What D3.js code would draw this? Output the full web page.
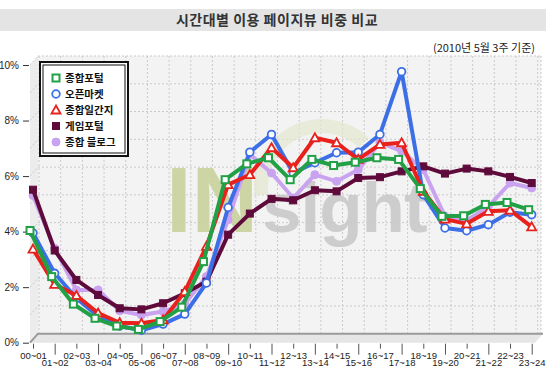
<!DOCTYPE html>
<html><head><meta charset="utf-8">
<script src="https://cdn.jsdelivr.net/npm/d3@7"></script>
<style>body{margin:0;background:#fff}svg{display:block}</style>
</head><body><svg id="c" width="550" height="379"></svg>
<script>
const categories = ["00~01","01~02","02~03","03~04","04~05","05~06","06~07","07~08","08~09","09~10","10~11","11~12","12~13","13~14","14~15","15~16","16~17","17~18","18~19","19~20","20~21","21~22","22~23","23~24"];
const seriesNames = ["종합포털","오픈마켓","종합일간지","게임포털","종합 블로그"];
const portal = [4.04,2.38,1.39,0.88,0.60,0.48,0.76,1.28,2.92,5.87,6.44,6.66,5.87,6.60,6.38,6.50,6.66,6.60,5.55,4.55,4.57,4.98,5.05,4.79];
const market = [3.95,2.50,1.60,0.95,0.60,0.45,0.67,1.03,2.15,4.87,6.86,7.50,6.11,6.48,6.84,6.86,7.50,9.76,5.33,4.13,4.03,4.25,4.70,4.61];
const news   = [3.37,2.10,1.70,1.07,0.72,0.70,0.82,1.84,3.47,5.69,6.05,7.02,6.30,7.38,7.20,6.60,7.14,7.20,5.45,4.45,4.28,4.73,4.77,4.17];
const game   = [5.51,3.32,2.26,1.72,1.24,1.20,1.42,1.78,2.20,3.89,4.65,5.18,5.13,5.49,5.45,5.93,5.96,6.17,6.35,6.09,6.27,6.17,5.97,5.75];
const blog   = [5.30,3.40,1.90,1.90,1.15,1.00,1.12,1.40,2.38,4.43,6.78,6.11,5.21,6.05,5.81,6.23,7.20,6.90,6.23,4.55,4.40,4.90,5.75,5.57];
const yTicks = [0,2,4,6,8,10];
const gridValues = [1,2,3,4,5,6,7,8,9,10];
const title = "시간대별 이용 페이지뷰 비중 비교";
const subtitle = "(2010년 5월 3주 기준)";

const seriesData = {"종합포털":portal,"오픈마켓":market,"종합일간지":news,"게임포털":game,"종합 블로그":blog};
const styles = {
  "종합포털":   {color:"#22a046", marker:"square",   open:true,  dx:-3},
  "오픈마켓":   {color:"#3c6fe6", marker:"circle",   open:true,  dx:0},
  "종합일간지": {color:"#e8211c", marker:"triangle", open:true,  dx:0},
  "게임포털":   {color:"#5e0b3c", marker:"square",   open:false, dx:0},
  "종합 블로그":{color:"#c9a2f0", marker:"circle",   open:false, dx:0}
};
const drawOrder = ["종합 블로그","게임포털","오픈마켓","종합일간지","종합포털"];

const svg = d3.select("#c");
const KR = "'Noto Sans CJK KR','Noto Sans',sans-serif";
const LAT = "'Liberation Sans',Arial,sans-serif";

const DX = 8, DY = -9;
const x = d3.scalePoint().domain(categories).range([33, 531.7]).padding(0);
const y = d3.scaleLinear().domain([0,10]).range([342.7, 65]);
const frontL = 30, backR = 541;

// title band
svg.append("rect").attr("x",0).attr("y",9).attr("width",546).attr("height",22).attr("fill","#e4e4e4");
svg.append("text").attr("x",277).attr("y",25).attr("text-anchor","middle")
  .attr("font-family",KR).attr("font-size",14).attr("font-weight","bold").attr("letter-spacing",0.5)
  .attr("fill","#333").text(title);
svg.append("text").attr("x",535).attr("y",52).attr("text-anchor","end")
  .attr("font-family",KR).attr("font-size",11).attr("fill","#222").text(subtitle);

// walls
const wallTop = y(10)+DY, wallBot = y(0)+DY, wallL = frontL+DX;
svg.append("rect").attr("x",wallL).attr("y",wallTop).attr("width",backR-wallL).attr("height",wallBot-wallTop)
  .attr("fill","#f3f3f3");
svg.append("path").attr("d",`M${frontL},${y(10)}L${wallL},${wallTop}L${wallL},${wallBot}L${frontL},${y(0)}Z`)
  .attr("fill","#ececec");
const grid = svg.append("g").attr("stroke","#cacaca").attr("stroke-dasharray","2,2").attr("stroke-width",1);
gridValues.forEach(v=>{
  grid.append("line").attr("x1",wallL).attr("x2",backR).attr("y1",y(v)+DY).attr("y2",y(v)+DY);
  grid.append("line").attr("x1",frontL).attr("x2",wallL).attr("y1",y(v)).attr("y2",y(v)+DY);
});
categories.forEach(c=>{
  const gx = x(c)+6;
  if (gx > wallL+1 && gx < backR) grid.append("line").attr("x1",gx).attr("x2",gx).attr("y1",wallTop).attr("y2",wallBot);
});
grid.append("line").attr("x1",backR).attr("x2",backR).attr("y1",wallTop).attr("y2",wallBot);
// floor
svg.append("path").attr("d",`M${frontL},${y(0)}L${wallL},${wallBot}L${backR+2},${wallBot}L${backR-6},${y(0)}Z`)
  .attr("fill","#e6e6e6");
svg.append("path").attr("d",`M${frontL},${y(0)}L${wallL},${wallBot}L${backR+2},${wallBot}`)
  .attr("fill","none").attr("stroke","#9a9a9a").attr("stroke-width",2);

// watermark
const wm = svg.append("g");
wm.append("path").attr("transform","translate(322,187)")
  .attr("d", d3.arc().innerRadius(54).outerRadius(68).startAngle(-1.7).endAngle(0.75)())
  .attr("fill","#e4e7cf").attr("opacity",0.7);
wm.append("text").attr("x",166).attr("y",232).attr("font-family",LAT).attr("font-weight","bold")
  .attr("font-size",92).attr("fill","#c9d29c").attr("opacity",0.9).text("IN");
wm.append("text").attr("x",262).attr("y",232).attr("font-family",LAT).attr("font-weight","bold")
  .attr("font-size",71).attr("letter-spacing",-1).attr("fill","#c9c9c9").attr("opacity",0.9).text("sight");

// y axis
const ya = svg.append("g").attr("transform",`translate(${frontL-1},0)`)
  .call(d3.axisLeft(y).tickValues(yTicks).tickFormat(d=>d+"%").tickSize(6).tickPadding(4));
ya.select(".domain").remove();
ya.selectAll("line").attr("stroke","#333");
ya.selectAll("text").attr("font-family",LAT).attr("font-size",10).attr("fill","#222");

// x axis
const xa = svg.append("g").attr("transform",`translate(0,${y(0)+1})`)
  .call(d3.axisBottom(x).tickSize(0));
xa.select(".domain").remove();
xa.selectAll(".tick").each(function(d,i){
  const t = d3.select(this);
  t.select("line").attr("y2", i%2 ? 11 : 5).attr("stroke","#555");
  t.select("text").attr("dy",null).attr("y", i%2 ? 22.5 : 15.5)
    .attr("font-family",LAT).attr("font-size",9.5).attr("fill","#222");
});

// markers & lines
function marker(g, st, px, py){
  const fill = st.open ? "#fff" : st.color;
  if (st.marker==="square") {
    const s = 7;
    g.append("rect").attr("x",px-s/2).attr("y",py-s/2).attr("width",s).attr("height",s)
      .attr("fill",fill).attr("stroke",st.color).attr("stroke-width",st.open?2:1);
  } else if (st.marker==="circle") {
    g.append("circle").attr("cx",px).attr("cy",py).attr("r",st.open?3.8:4)
      .attr("fill",fill).attr("stroke",st.color).attr("stroke-width",st.open?1.8:1);
  } else {
    g.append("path").attr("d",`M${px},${py-4.5}L${px+4.5},${py+3.5}L${px-4.5},${py+3.5}Z`)
      .attr("fill",fill).attr("stroke",st.color).attr("stroke-width",1.8);
  }
}
const lineG = svg.append("g");
drawOrder.forEach(name=>{
  const st = styles[name], vals = seriesData[name];
  const line = d3.line().x((d,i)=>x(categories[i])+st.dx).y(d=>y(d));
  const g = lineG.append("g");
  g.append("path").datum(vals).attr("d",line).attr("fill","none")
    .attr("stroke",st.color).attr("stroke-width",4).attr("stroke-linejoin","round");
  vals.forEach((v,i)=>marker(g, st, x(categories[i])+st.dx, y(v)));
});

// legend
const lg = svg.append("g");
lg.append("rect").attr("x",40).attr("y",62).attr("width",88).attr("height",94)
  .attr("fill","#fff").attr("stroke","#111").attr("stroke-width",2);
lg.append("rect").attr("x",43).attr("y",65).attr("width",82).attr("height",88)
  .attr("fill","none").attr("stroke","#111").attr("stroke-width",1);
seriesNames.forEach((name,i)=>{
  const cy = 78 + i*16;
  marker(lg, styles[name], 56, cy);
  lg.append("text").attr("x",65).attr("y",cy+4).attr("font-family",KR).attr("font-size",10.5)
    .attr("font-weight","bold").attr("fill","#111").text(name);
});
</script></body></html>
